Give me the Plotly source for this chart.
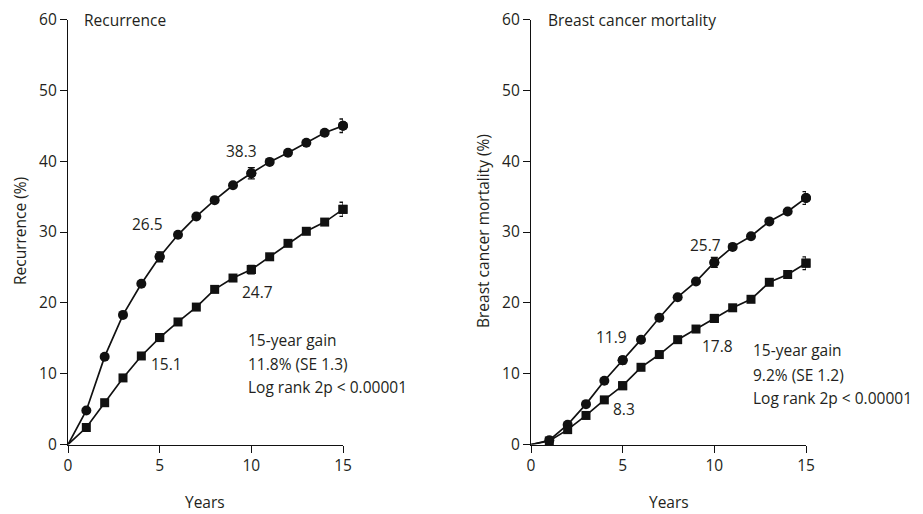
import plotly.graph_objects as go

years = list(range(0, 16))

rec_control = [0, 4.8, 12.4, 18.3, 22.7, 26.5, 29.6, 32.2, 34.5, 36.6, 38.3, 39.9, 41.2, 42.6, 44.0, 45.0]
rec_tamox = [0, 2.4, 5.9, 9.4, 12.5, 15.1, 17.3, 19.4, 21.9, 23.5, 24.7, 26.5, 28.4, 30.1, 31.4, 33.2]

mort_control = [0, 0.6, 2.8, 5.7, 9.0, 11.9, 14.8, 17.9, 20.8, 23.0, 25.7, 27.9, 29.4, 31.5, 32.9, 34.8]
mort_tamox = [0, 0.5, 2.1, 4.1, 6.3, 8.3, 10.9, 12.7, 14.8, 16.3, 17.8, 19.3, 20.5, 22.9, 24.0, 25.6]

se_years = [5, 10, 15]
rec_control_se = [0.7, 0.8, 0.95]
rec_tamox_se = [0.5, 0.6, 1.0]
mort_control_se = [0.5, 0.7, 0.9]
mort_tamox_se = [0.4, 0.5, 0.9]

y_ticks = [0, 10, 20, 30, 40, 50, 60]
x_ticks = [0, 5, 10, 15]

FONT = "Open Sans"
FS = 15.5
TXT = "#231f20"
LINE = "#111111"
W, H = 923, 514
OFF = 8  # page body margin offset


def px(x):
    return (x - OFF) / W


def py(y):
    return 1 - (y - OFF) / H


fig = go.Figure()


def add_series(x, y, symbol, msize, xa, ya, se_vals):
    sizes = [0] + [msize] * (len(x) - 1)
    fig.add_trace(go.Scatter(
        x=x, y=y, mode="lines+markers", xaxis=xa, yaxis=ya,
        line=dict(color=LINE, width=1.7),
        marker=dict(symbol=symbol, size=sizes, color=LINE, opacity=1, line=dict(width=0)),
        cliponaxis=False, showlegend=False, hoverinfo="skip"))
    ey = [y[x.index(v)] for v in se_years]
    fig.add_trace(go.Scatter(
        x=se_years, y=ey, mode="markers", xaxis=xa, yaxis=ya,
        marker=dict(symbol=symbol, size=msize, color=LINE, opacity=1, line=dict(width=0)),
        error_y=dict(type="data", array=se_vals, color=LINE, thickness=1.3, width=3.5),
        cliponaxis=False, showlegend=False, hoverinfo="skip"))


add_series(years, rec_control, "circle", 10, "x", "y", rec_control_se)
add_series(years, rec_tamox, "square", 9, "x", "y", rec_tamox_se)
add_series(years, mort_control, "circle", 10, "x2", "y2", mort_control_se)
add_series(years, mort_tamox, "square", 9, "x2", "y2", mort_tamox_se)

axis_common = dict(showline=True, linecolor=LINE, linewidth=1.3, ticks="outside",
                   ticklen=7, tickwidth=1.3, tickcolor=LINE, showgrid=False, zeroline=False,
                   automargin=False, ticklabeloverflow="allow",
                   tickfont=dict(family=FONT, size=FS, color=TXT))

ydom = [py(444.5), py(19.5)]
fig.update_layout(
    width=W, height=H, margin=dict(l=0, r=0, t=0, b=0, pad=0, autoexpand=False),
    paper_bgcolor="white", plot_bgcolor="white",
    font=dict(family=FONT, size=FS, color=TXT),
    xaxis=dict(domain=[px(68), px(343)], range=[0, 15], tickvals=x_ticks, anchor="y", **axis_common),
    yaxis=dict(domain=ydom, range=[0, 60], tickvals=y_ticks, anchor="x", **axis_common),
    xaxis2=dict(domain=[px(531), px(806)], range=[0, 15], tickvals=x_ticks, anchor="y2", **axis_common),
    yaxis2=dict(domain=ydom, range=[0, 60], tickvals=y_ticks, anchor="x2", **axis_common),
)


def ann(text, x, y, xref, yref, xanchor="center", angle=0):
    fig.add_annotation(text=text, x=x, y=y, xref=xref, yref=yref, showarrow=False,
                       xanchor=xanchor, yanchor="middle", textangle=angle,
                       font=dict(family=FONT, size=FS, color=TXT))


# Left panel texts
ann("Recurrence", 0.78, 60.0, "x", "y", "left")
ann("26.5", 4.36, 31.2, "x", "y")
ann("38.3", 9.48, 41.4, "x", "y")
ann("15.1", 5.35, 11.4, "x", "y")
ann("24.7", 10.31, 21.5, "x", "y")
ann("Control", 15.66, 46.3, "x", "y", "left")
ann("45.0%", 15.66, 42.9, "x", "y", "left")
ann("About 5 years", 15.66, 33.4, "x", "y", "left")
ann("of tamoxifen", 15.66, 30.0, "x", "y", "left")
ann("33.2%", 15.66, 26.7, "x", "y", "left")
ann("15-year gain", 9.71, 14.7, "x", "y", "left")
ann("11.8% (SE 1.3)", 9.71, 11.4, "x", "y", "left")
ann("Log rank 2p &lt; 0.00001", 9.71, 8.1, "x", "y", "left")

# Right panel texts
ann("Breast cancer mortality", 0.82, 60.0, "x2", "y2", "left")
ann("11.9", 4.40, 15.24, "x2", "y2")
ann("8.3", 5.09, 5.08, "x2", "y2")
ann("25.7", 9.53, 28.1, "x2", "y2")
ann("17.8", 10.16, 13.97, "x2", "y2")
ann("Control", 15.49, 34.8, "x2", "y2", "left")
ann("34.8%", 15.49, 31.3, "x2", "y2", "left")
ann("About 5 years", 15.49, 25.9, "x2", "y2", "left")
ann("of tamoxifen", 15.49, 22.5, "x2", "y2", "left")
ann("25.6%", 15.49, 19.1, "x2", "y2", "left")
ann("15-year gain", 11.99, 13.3, "x2", "y2", "left")
ann("9.2% (SE 1.2)", 11.99, 9.8, "x2", "y2", "left")
ann("Log rank 2p &lt; 0.00001", 11.99, 6.5, "x2", "y2", "left")

# Axis titles
ann("Recurrence (%)", px(20), py(231), "paper", "paper", angle=-90)
ann("Breast cancer mortality (%)", px(483), py(231), "paper", "paper", angle=-90)
ann("Years", px(205), py(502), "paper", "paper")
ann("Years", px(669), py(502), "paper", "paper")

fig.write_html("out.html")
